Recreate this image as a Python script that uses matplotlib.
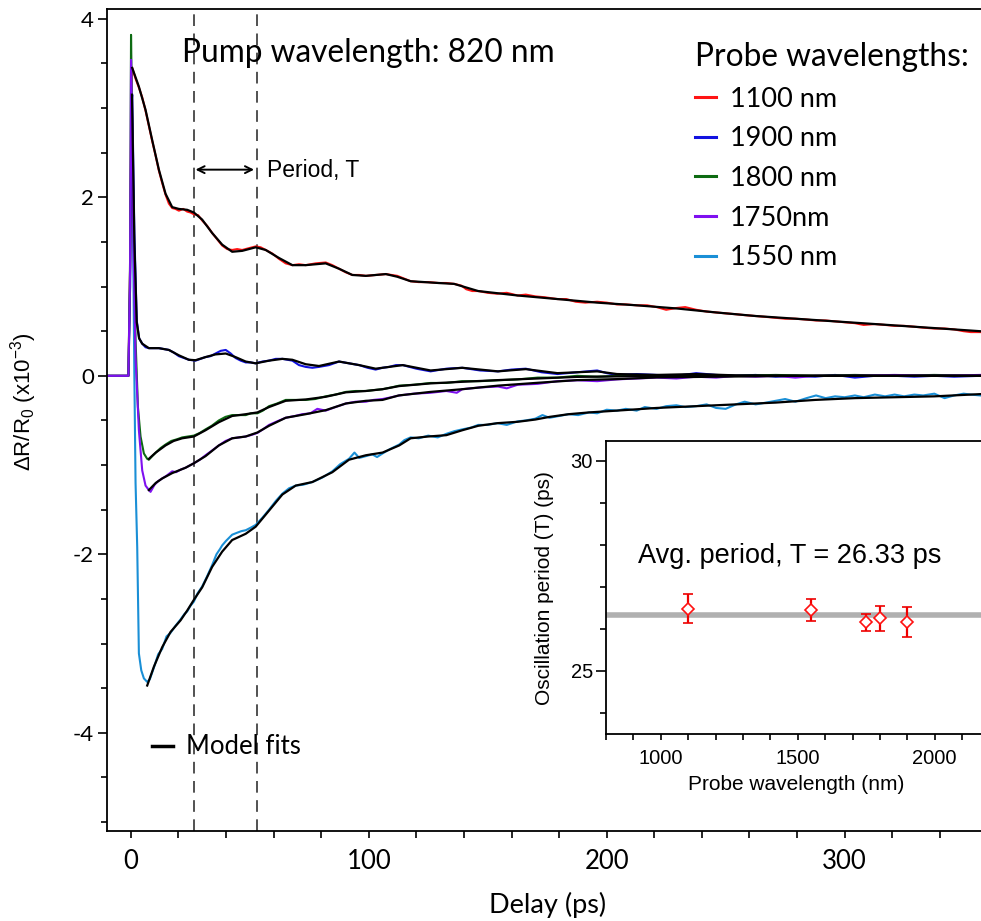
import numpy as np
import matplotlib
matplotlib.use("Agg")
import matplotlib.pyplot as plt
from matplotlib.ticker import MultipleLocator

plt.rcParams["mathtext.default"] = "regular"
plt.rcParams["axes.unicode_minus"] = False

# ---- data (delay in ps, dR/R0 in 1e-3) --------------------------------------
red_data = np.array([
    (-10, 0.0), (-1.0, 0.0), (-0.3, 1.2), (0.3, 3.35), (0.6, 3.45), (2.0, 3.33), (3.4, 3.23),
    (4.8, 3.12), (6.2, 2.97), (7.6, 2.80), (9.0, 2.63), (10.4, 2.47), (11.8, 2.30), (13.2, 2.16),
    (14.6, 2.03), (16.0, 1.93), (17.4, 1.88), (18.8, 1.87), (20.2, 1.85), (22.0, 1.87), (23.7, 1.84),
    (25.1, 1.83), (26.5, 1.81), (28.3, 1.80), (30.0, 1.74), (32.1, 1.68), (34.2, 1.60), (36.3, 1.53),
    (38.4, 1.46), (40.5, 1.42), (42.6, 1.41), (44.7, 1.42), (46.8, 1.41), (49.6, 1.43), (52.5, 1.45),
    (54.6, 1.44), (56.7, 1.41), (59.5, 1.37), (62.3, 1.31), (65.1, 1.26), (67.9, 1.24), (70.7, 1.25),
    (73.5, 1.24), (77.7, 1.26), (81.9, 1.27), (84.7, 1.24), (87.5, 1.20), (90.3, 1.16), (93.1, 1.13),
    (96.0, 1.13), (98.8, 1.12), (103.0, 1.13), (107.2, 1.14), (112.0, 1.12), (114.8, 1.09), (117.6, 1.06),
    (121.0, 1.05), (125.0, 1.05), (129.3, 1.04), (132.6, 1.04), (135.9, 1.03), (139.0, 1.01), (141.0, 0.97),
    (143.5, 0.95), (146.0, 0.95), (150.0, 0.93), (154.0, 0.92), (158.0, 0.93), (162.6, 0.90), (166.0, 0.91),
    (170.0, 0.89), (174.0, 0.88), (179.3, 0.86), (183.0, 0.86), (187.0, 0.83), (191.0, 0.82), (196.0, 0.83),
    (200.0, 0.82), (204.3, 0.80), (208.0, 0.80), (212.6, 0.79), (217.0, 0.79), (221.0, 0.77), (225.0, 0.74),
    (229.3, 0.76), (233.0, 0.77), (237.6, 0.74), (242.0, 0.72), (246.0, 0.71), (250.0, 0.70), (254.3, 0.69),
    (258.0, 0.68), (262.6, 0.67), (267.0, 0.66), (271.0, 0.65), (275.0, 0.64), (279.3, 0.64), (284.0, 0.63),
    (288.0, 0.62), (292.0, 0.62), (296.0, 0.61), (300.0, 0.60), (304.3, 0.59), (308.0, 0.57), (312.7, 0.58),
    (317.0, 0.57), (321.0, 0.56), (325.0, 0.56), (329.3, 0.55), (333.0, 0.54), (337.7, 0.53), (342.0, 0.53),
    (346.0, 0.52), (350.0, 0.50), (353.0, 0.49), (357.0, 0.49)])
red_fit = np.array([
    (0.6, 3.45), (3.4, 3.24), (6.2, 2.98), (9.0, 2.64), (11.8, 2.31), (14.6, 2.04), (17.4, 1.89),
    (20.2, 1.87), (23.7, 1.86), (26.5, 1.83), (30.0, 1.75), (34.2, 1.60), (38.4, 1.47), (42.6, 1.39),
    (46.8, 1.40), (52.5, 1.44), (56.7, 1.41), (62.3, 1.32), (67.9, 1.24), (73.5, 1.24), (81.9, 1.26),
    (87.5, 1.20), (93.1, 1.13), (98.8, 1.12), (107.2, 1.14), (112.0, 1.11), (117.6, 1.06), (129.3, 1.04),
    (135.9, 1.03), (146.0, 0.95), (162.6, 0.90), (179.3, 0.86), (196.0, 0.82), (212.6, 0.79),
    (229.3, 0.755), (246.0, 0.71), (262.6, 0.67), (279.3, 0.64), (296.0, 0.61), (312.7, 0.58),
    (329.3, 0.55), (346.0, 0.52), (357.0, 0.50)])

blue_data = np.array([
    (-10, 0.0), (-1.0, 0.0), (-0.3, 1.0), (0.3, 3.05), (0.6, 3.15), (1.5, 1.6), (2.5, 0.62), (3.5, 0.42),
    (4.8, 0.36), (6.2, 0.32), (7.6, 0.31), (9.7, 0.31), (11.8, 0.31), (13.9, 0.30), (16.0, 0.29),
    (18.1, 0.26), (20.2, 0.22), (22.3, 0.20), (24.4, 0.18), (27.2, 0.17), (29.3, 0.19), (31.4, 0.21),
    (33.5, 0.22), (35.6, 0.25), (37.8, 0.28), (39.9, 0.29), (42.0, 0.25), (44.0, 0.20), (46.2, 0.17),
    (48.3, 0.15), (50.4, 0.15), (52.5, 0.14), (55.3, 0.16), (58.1, 0.17), (60.9, 0.19), (63.7, 0.19),
    (65.8, 0.18), (67.9, 0.17), (70.7, 0.12), (73.5, 0.10), (76.3, 0.09), (79.1, 0.10), (83.3, 0.12),
    (87.5, 0.16), (91.7, 0.14), (96.0, 0.12), (99.5, 0.09), (102.9, 0.07), (105.8, 0.09), (108.6, 0.10),
    (111.4, 0.12), (114.3, 0.12), (120.0, 0.08), (126.0, 0.05), (132.6, 0.08), (139.3, 0.09), (146.8, 0.06),
    (154.3, 0.05), (160.0, 0.07), (166.0, 0.08), (172.6, 0.04), (179.3, 0.02), (187.6, 0.04), (196.0, 0.06),
    (200.0, 0.03), (204.3, 0.01), (212.6, 0.02), (221.0, 0.01), (229.3, 0.0), (237.6, 0.03), (246.0, 0.01),
    (254.3, 0.0), (262.6, 0.01), (271.0, -0.01), (279.3, 0.0), (287.6, -0.01), (296.0, 0.01),
    (304.3, -0.02), (312.7, 0.0), (321.0, 0.0), (329.3, -0.01), (337.7, 0.0), (346.0, -0.01), (357.0, 0.0)])
blue_fit = np.array([
    (0.5, 3.15), (1.5, 1.5), (2.5, 0.6), (3.5, 0.42), (4.8, 0.36), (7.6, 0.31), (11.8, 0.31), (16.0, 0.29),
    (20.2, 0.23), (24.4, 0.18), (27.2, 0.175), (31.4, 0.21), (35.6, 0.24), (39.9, 0.25), (44.0, 0.21),
    (48.3, 0.16), (52.5, 0.14), (58.1, 0.17), (63.7, 0.19), (67.9, 0.18), (73.5, 0.13), (79.1, 0.11),
    (87.5, 0.16), (96.0, 0.12), (102.9, 0.08), (108.6, 0.10), (114.3, 0.12), (126.0, 0.06), (139.3, 0.09),
    (154.3, 0.05), (166.0, 0.075), (179.3, 0.03), (196.0, 0.05), (204.3, 0.02), (221.0, 0.01),
    (237.6, 0.02), (254.3, 0.005), (280.0, 0.0), (357.0, 0.0)])

green_data = np.array([
    (-10, 0.0), (-1.0, 0.0), (-0.3, 1.3), (0.1, 3.82), (0.5, 3.0), (1.2, 1.6), (2.0, 0.4), (3.0, -0.35),
    (4.1, -0.68), (5.5, -0.87), (6.9, -0.93), (7.6, -0.94), (9.0, -0.90), (10.5, -0.86), (12.5, -0.81),
    (14.6, -0.77), (17.0, -0.73), (19.5, -0.71), (21.6, -0.69), (24.0, -0.68), (26.5, -0.67), (29.0, -0.64),
    (31.4, -0.60), (34.0, -0.56), (37.0, -0.50), (39.8, -0.46), (42.6, -0.44), (45.5, -0.44), (48.3, -0.44),
    (50.5, -0.42), (53.2, -0.42), (55.5, -0.39), (58.1, -0.34), (61.5, -0.31), (65.1, -0.27), (69.0, -0.27),
    (73.5, -0.27), (77.5, -0.26), (81.9, -0.23), (86.0, -0.21), (90.4, -0.18), (94.5, -0.17), (98.8, -0.17),
    (102.0, -0.16), (105.8, -0.15), (109.5, -0.13), (112.8, -0.11), (119.0, -0.10), (126.0, -0.08),
    (132.6, -0.08), (139.3, -0.06), (146.8, -0.06), (154.3, -0.05), (162.6, -0.04), (171.0, -0.02),
    (179.3, -0.02), (187.6, 0.0), (196.0, -0.01), (204.3, 0.0), (212.6, 0.01), (221.0, 0.0), (237.6, 0.01),
    (254.3, 0.0), (271.0, 0.01), (287.6, 0.0), (304.3, 0.01), (321.0, 0.0), (337.7, 0.01), (357.0, 0.0)])
green_fit = np.array([
    (7.6, -0.93), (10.5, -0.86), (14.6, -0.78), (18.0, -0.73), (21.6, -0.70), (26.5, -0.68), (31.4, -0.61),
    (37.0, -0.52), (42.6, -0.45), (48.3, -0.43), (53.2, -0.41), (58.1, -0.35), (65.1, -0.28),
    (73.5, -0.265), (81.9, -0.235), (90.4, -0.185), (98.8, -0.17), (105.8, -0.15), (112.8, -0.115),
    (126.0, -0.085), (139.3, -0.067), (154.3, -0.048), (171.0, -0.03), (187.6, -0.012), (212.6, -0.004),
    (250.0, 0.0), (357.0, 0.0)])

purple_data = np.array([
    (-10, 0.0), (-1.0, 0.0), (-0.3, 1.2), (0.1, 3.54), (0.5, 2.9), (1.2, 1.3), (2.0, 0.2), (3.4, -0.61),
    (4.8, -1.06), (6.2, -1.23), (7.6, -1.28), (8.3, -1.30), (10.0, -1.22), (11.5, -1.18), (13.2, -1.15),
    (15.0, -1.12), (17.4, -1.07), (19.0, -1.08), (21.0, -1.05), (23.0, -1.03), (26.5, -0.98), (29.0, -0.94),
    (31.4, -0.89), (34.0, -0.84), (37.0, -0.78), (39.8, -0.73), (42.6, -0.70), (45.5, -0.69), (48.3, -0.68),
    (51.0, -0.66), (53.2, -0.64), (55.5, -0.60), (58.1, -0.55), (61.5, -0.51), (65.1, -0.47), (69.0, -0.45),
    (72.0, -0.43), (75.5, -0.42), (78.4, -0.37), (81.9, -0.39), (86.0, -0.35), (90.4, -0.31), (94.5, -0.29),
    (98.8, -0.29), (102.0, -0.27), (105.8, -0.26), (109.5, -0.24), (112.8, -0.22), (119.0, -0.20),
    (126.0, -0.19), (132.6, -0.17), (137.0, -0.19), (139.3, -0.15), (146.8, -0.13), (154.3, -0.12),
    (158.0, -0.14), (162.6, -0.10), (171.0, -0.09), (179.3, -0.06), (187.6, -0.05), (196.0, -0.06),
    (204.3, -0.04), (212.6, -0.03), (221.0, -0.02), (229.3, -0.03), (237.6, -0.01), (246.0, -0.02),
    (254.3, 0.0), (262.6, -0.01), (271.0, 0.0), (279.3, -0.02), (287.6, 0.0), (304.3, 0.0), (321.0, 0.01),
    (337.7, 0.0), (357.0, 0.01)])
purple_fit = np.array([
    (7.6, -1.28), (10.5, -1.20), (13.2, -1.15), (17.4, -1.09), (23.0, -1.03), (26.5, -0.98), (31.4, -0.90),
    (37.0, -0.78), (42.6, -0.70), (48.3, -0.68), (53.2, -0.635), (58.1, -0.56), (65.1, -0.47),
    (73.5, -0.43), (81.9, -0.385), (90.4, -0.31), (98.8, -0.28), (105.8, -0.27), (112.6, -0.22),
    (126.0, -0.18), (139.3, -0.15), (154.3, -0.11), (171.0, -0.078), (187.6, -0.048), (204.3, -0.037),
    (221.0, -0.018), (246.0, -0.01), (280.0, 0.0), (357.0, 0.0)])

lblue_data = np.array([
    (-10, 0.0), (-1.0, 0.0), (-0.3, 1.0), (0.3, 3.0), (0.8, 2.0), (1.5, 0.0), (2.0, -1.2), (2.7, -1.92),
    (3.4, -3.11), (4.4, -3.30), (5.5, -3.39), (6.9, -3.43), (8.0, -3.40), (9.7, -3.27), (11.5, -3.12),
    (13.2, -3.06), (15.0, -2.92), (16.7, -2.88), (18.8, -2.80), (20.9, -2.73), (22.5, -2.67), (23.7, -2.64),
    (25.0, -2.58), (26.5, -2.53), (28.0, -2.44), (30.0, -2.36), (32.0, -2.25), (34.2, -2.12), (36.0, -2.00),
    (37.5, -1.94), (38.4, -1.90), (40.0, -1.85), (42.6, -1.78), (44.5, -1.76), (46.5, -1.74), (48.3, -1.73),
    (50.5, -1.70), (52.5, -1.67), (55.3, -1.59), (58.1, -1.50), (61.0, -1.40), (63.7, -1.32), (66.5, -1.26),
    (69.3, -1.23), (72.5, -1.22), (76.3, -1.19), (80.5, -1.14), (84.7, -1.07), (88.0, -0.99), (91.7, -0.93),
    (94.0, -0.86), (96.0, -0.92), (98.8, -0.90), (101.5, -0.88), (103.5, -0.91), (105.8, -0.87),
    (109.0, -0.82), (112.8, -0.77), (115.0, -0.72), (117.6, -0.69), (121.0, -0.70), (125.0, -0.67),
    (129.0, -0.69), (132.6, -0.65), (136.0, -0.62), (139.3, -0.60), (143.0, -0.58), (146.0, -0.55),
    (150.0, -0.55), (154.0, -0.53), (158.0, -0.55), (162.6, -0.51), (166.0, -0.50), (170.0, -0.48),
    (173.0, -0.44), (176.0, -0.47), (180.0, -0.45), (184.0, -0.43), (188.0, -0.44), (192.6, -0.41),
    (196.0, -0.42), (200.0, -0.38), (204.3, -0.39), (208.0, -0.37), (212.6, -0.39), (216.0, -0.35),
    (221.0, -0.37), (225.0, -0.34), (229.3, -0.33), (233.0, -0.35), (237.6, -0.34), (242.0, -0.32),
    (246.0, -0.36), (250.0, -0.37), (254.3, -0.32), (258.0, -0.29), (262.6, -0.32), (267.0, -0.30),
    (271.0, -0.28), (275.0, -0.26), (279.3, -0.29), (284.0, -0.25), (288.0, -0.22), (292.0, -0.25),
    (296.0, -0.23), (300.0, -0.24), (304.3, -0.22), (308.0, -0.24), (312.7, -0.21), (317.0, -0.23),
    (321.0, -0.21), (325.0, -0.23), (329.3, -0.21), (333.0, -0.22), (337.7, -0.20), (342.0, -0.25),
    (346.0, -0.22), (350.0, -0.20), (353.0, -0.21), (357.0, -0.22)])
lblue_fit = np.array([
    (6.9, -3.47), (9.7, -3.26), (13.2, -3.04), (16.7, -2.87), (20.9, -2.74), (23.7, -2.63), (26.5, -2.51),
    (30.0, -2.37), (34.2, -2.14), (38.4, -1.97), (42.6, -1.84), (48.3, -1.77), (52.5, -1.69), (58.1, -1.51),
    (63.7, -1.33), (69.3, -1.23), (76.3, -1.19), (84.7, -1.08), (91.7, -0.94), (98.8, -0.89), (105.8, -0.86),
    (112.8, -0.78), (117.6, -0.70), (125.0, -0.68), (132.6, -0.665), (139.3, -0.61), (146.0, -0.56),
    (154.3, -0.53), (162.6, -0.515), (170.0, -0.49), (176.0, -0.46), (184.0, -0.43), (192.6, -0.41),
    (204.3, -0.39), (221.0, -0.36), (237.6, -0.34), (254.3, -0.32), (271.0, -0.30), (287.6, -0.27),
    (304.3, -0.25), (321.0, -0.24), (337.7, -0.23), (357.0, -0.205)])

legend_labels = ["1100 nm", "1900 nm", "1800 nm", "1750nm", "1550 nm"]
period_marks = [26.5, 52.83]

# inset: oscillation period vs probe wavelength
probe_wl = [1100, 1550, 1750, 1800, 1900]
osc_period = [26.48, 26.46, 26.16, 26.25, 26.17]
osc_err = [0.35, 0.26, 0.20, 0.30, 0.35]
avg_period = 26.33

MAIN_FONT = "Lato"
SANS = "Liberation Sans"

fig = plt.figure(figsize=(9.81, 9.21), dpi=100)
W, H = 981.0, 921.0
ax = fig.add_axes([107 / W, 1 - 831 / H, 880.4 / W, 822 / H])

series = [
    (lblue_data, lblue_fit, "#1a8fd6"),
    (red_data, red_fit, "#ff1414"),
    (blue_data, blue_fit, "#1212e0"),
    (green_data, green_fit, "#0d6b12"),
    (purple_data, purple_fit, "#7f10f0"),
]
handles = {}
for data, fit, col in series:
    ln, = ax.plot(data[:, 0], data[:, 1], color=col, lw=1.5, zorder=2)
    handles[col] = ln
for data, fit, col in series:
    ax.plot(fit[:, 0], fit[:, 1], color="black", lw=1.6, zorder=3)

for t in period_marks:
    ax.axvline(t, color="#333333", lw=1.2, ls=(0, (7, 4.5)), zorder=1)

ax.annotate("", xy=(27.2, 2.31), xytext=(51.8, 2.31),
            arrowprops=dict(arrowstyle="<->,head_length=0.5,head_width=0.25", lw=1.4, color="black",
                            shrinkA=0, shrinkB=0))
ax.text(57.2, 2.23, "Period, T", fontsize=16.5, family=SANS, va="baseline")
ax.text(21.5, 3.52, "Pump wavelength: 820 nm", fontsize=22.8, family=MAIN_FONT, va="baseline")

ax.set_xlim(-10, 360)
ax.set_ylim(-5.1, 4.11)
ax.spines["right"].set_visible(False)
for s in ("left", "bottom", "top"):
    ax.spines[s].set_linewidth(1.3)
ax.xaxis.set_major_locator(MultipleLocator(100))
ax.xaxis.set_minor_locator(MultipleLocator(20))
ax.yaxis.set_major_locator(MultipleLocator(2))
ax.yaxis.set_minor_locator(MultipleLocator(0.5))
ax.tick_params(axis="x", which="both", direction="out", length=5, width=1.2, pad=8)
ax.tick_params(axis="y", which="major", direction="out", length=6.5, width=1.2, pad=3)
ax.tick_params(axis="y", which="minor", direction="out", length=4, width=1.2)
for lab in ax.get_xticklabels():
    lab.set_fontfamily(MAIN_FONT)
    lab.set_fontsize(18.5)
for lab in ax.get_yticklabels():
    lab.set_fontfamily(MAIN_FONT)
    lab.set_fontsize(16)

fig.text(548 / W, 1 - 905 / H, "Delay (ps)", fontsize=19.5, family=MAIN_FONT, ha="center", va="center")
fig.text(24 / W, 1 - 402 / H, r"$\Delta$R/R$_0$ (x10$^{-3}$)", fontsize=16, family=SANS,
         rotation=90, ha="center", va="center")

order = ["#ff1414", "#1212e0", "#0d6b12", "#7f10f0", "#1a8fd6"]
leg = ax.legend([handles[c] for c in order], legend_labels, title="Probe wavelengths:",
                loc="upper left", bbox_to_anchor=((695 - 107) / 880.4, (831 - 42) / 822.0),
                frameon=False, prop=dict(family=MAIN_FONT, size=19.5),
                title_fontproperties=dict(family=MAIN_FONT, size=22.8), alignment="left",
                handlelength=0.77, handletextpad=0.52, labelspacing=0.54, borderpad=0, borderaxespad=0)
for h in leg.legend_handles:
    h.set_linewidth(2.2)
ax.add_artist(leg)

fit_handle, = ax.plot([], [], color="black", lw=2.5)
ax.legend([fit_handle], ["Model fits"], loc="center left",
          bbox_to_anchor=((151.7 - 107) / 880.4, (831 - 747) / 822.0), frameon=False,
          prop=dict(family=MAIN_FONT, size=18.5), handlelength=0.82, handletextpad=0.52,
          borderpad=0, borderaxespad=0)

# ---- inset -------------------------------------------------------------------
ins = fig.add_axes([606 / W, 1 - 734 / H, 383.5 / W, 293.3 / H])
ins.axhline(avg_period, color="#b0b0b0", lw=4, zorder=1)
ins.errorbar(probe_wl, osc_period, yerr=osc_err, fmt="D", ms=6.2, mfc="white", mec="#ff1010",
             mew=1.2, color="#ff1010", ecolor="#ee0000", elinewidth=1.6, capsize=3.5, capthick=2, zorder=3)
ins.text(916.8, 27.57, "Avg. period, T = 26.33 ps", fontsize=19.5, family=SANS, va="baseline")
ins.set_xlim(800, 2200)
ins.set_ylim(23.5, 30.48)
ins.spines["right"].set_visible(False)
for s in ("left", "bottom", "top"):
    ins.spines[s].set_linewidth(1.3)
ins.xaxis.set_major_locator(MultipleLocator(500))
ins.xaxis.set_minor_locator(MultipleLocator(100))
ins.yaxis.set_major_locator(MultipleLocator(5))
ins.yaxis.set_minor_locator(MultipleLocator(1))
ins.tick_params(axis="x", which="both", direction="out", length=4.5, width=1.2, pad=6)
ins.tick_params(axis="y", which="major", direction="out", length=7, width=1.2, pad=2.5)
ins.tick_params(axis="y", which="minor", direction="out", length=4.5, width=1.2)
for lab in ins.get_xticklabels() + ins.get_yticklabels():
    lab.set_fontfamily(SANS)
    lab.set_fontsize(14.5)
fig.text(796 / W, 1 - 784 / H, "Probe wavelength (nm)", fontsize=15, family=SANS, ha="center", va="center")
fig.text(545 / W, 1 - 588 / H, "Oscillation period (T) (ps)", fontsize=15, family=SANS,
         rotation=90, ha="center", va="center")

fig.savefig("out.png", dpi=100)
